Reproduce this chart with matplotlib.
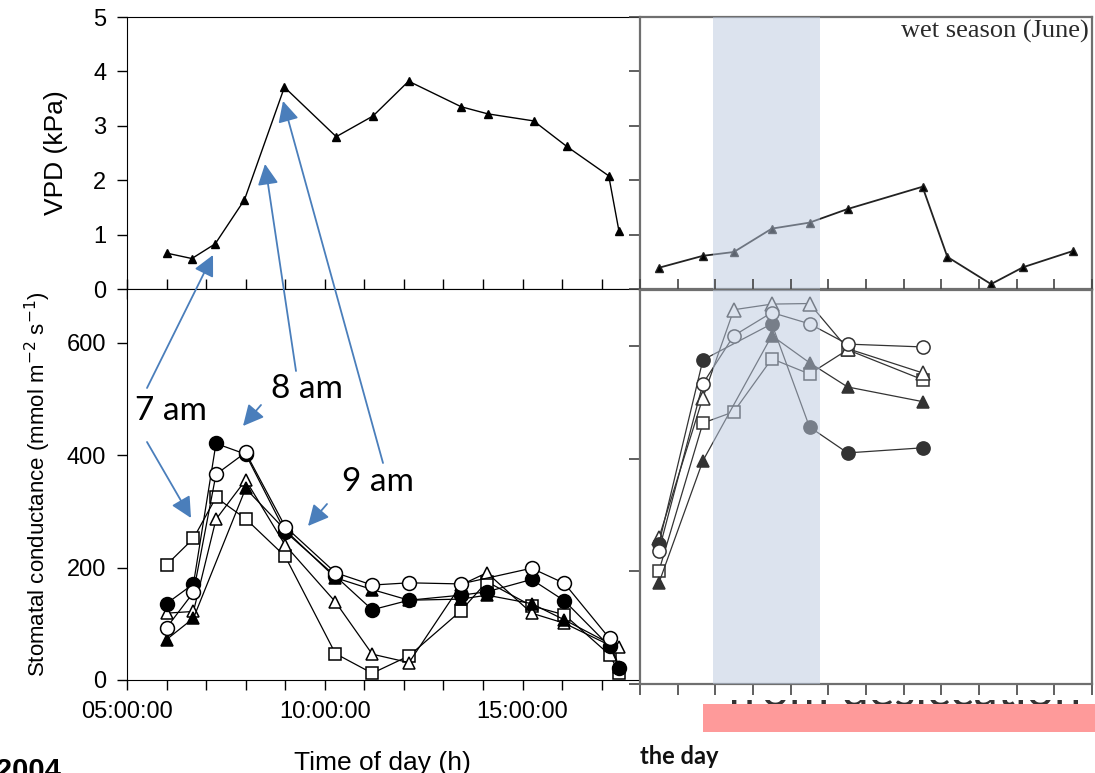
import numpy as np
import matplotlib
matplotlib.use('Agg')
import matplotlib.pyplot as plt
from matplotlib.patches import Rectangle

nan = np.nan
W, H = 1095, 773

# ---------------- data ----------------
# Left: dry season, time of day (hours)
vpd_time = [6.0, 6.64, 7.23, 7.97, 8.98, 10.29, 11.22, 12.12, 13.45, 14.12, 15.28, 16.12, 17.18, 17.44]
vpd_values = [0.66, 0.56, 0.83, 1.64, 3.71, 2.80, 3.18, 3.82, 3.35, 3.22, 3.09, 2.62, 2.08, 1.06]

gs_time = [6.0, 6.68, 7.25, 8.0, 9.0, 10.27, 11.2, 12.13, 13.44, 14.1, 15.23, 16.06, 17.2, 17.45]
gs_filled_circle = [136, 171, 421, 402, 264, 185, 125, 142, 151, 157, 179, 141, 60, 22]
gs_open_circle = [93, 156, 366, 405, 273, 191, 169, 173, 171, nan, 199, 172, 74, nan]
gs_open_triangle = [119, 122, 286, 356, 240, 139, 46, 31, 169, 191, 119, 101, 62, 59]
gs_open_square = [205, 252, 325, 287, 220, 47, 12, 43, 123, 175, 132, 116, 45, 12]
gs_filled_triangle = [72, 110, nan, 341, 267, 182, 161, 142, 144, 151, 136, 107, 65, 24]

# Right: wet season (June)
wet_time = [6.5, 7.67, 8.49, 9.5, 10.5, 11.51, 13.5, 14.16, 15.32, 16.17, 17.5]
wet_vpd = [0.39, 0.61, 0.68, 1.11, 1.22, 1.47, 1.88, 0.59, 0.09, 0.40, 0.70]

wet_gs_time = [6.5, 7.67, 8.49, 9.5, 10.5, 11.51, 13.5]
wet_filled_circle = [248, 575, nan, 639, 456, 410, 419]
wet_open_circle = [236, 533, 618, 659, 639, 603, 598]
wet_open_triangle = [259, 508, 664, 674, 675, 595, 552]
wet_open_square = [200, 463, 483, 577, 550, 593, 540]
wet_filled_triangle = [179, 396, nan, 618, 570, 527, 501]

left_hours = list(range(5, 18))
left_labels = ['05:00:00' if h == 5 else '10:00:00' if h == 10 else '15:00:00' if h == 15 else '' for h in left_hours]
shade_span = (7.93, 10.77)

# ---------------- figure ----------------
fig = plt.figure(figsize=(W / 100, H / 100), dpi=100)
plt.rcParams['font.family'] = ['Liberation Sans', 'DejaVu Sans']


def ax_px(x0, y0, x1, y1, **kw):
    return fig.add_axes([x0 / W, 1 - y1 / H, (x1 - x0) / W, (y1 - y0) / H], **kw)


def plot_series(ax, x, y, marker, filled, ms, lc='black', mew=1.1, lw=0.9):
    x = np.asarray(x, float)
    y = np.asarray(y, float)
    m = ~np.isnan(y)
    ax.plot(x[m], y[m], color=lc, lw=lw, marker=marker, ms=ms,
            mfc=(lc if filled else 'white'), mec=lc, mew=mew, zorder=3)


# ---- left top: VPD ----
axA = ax_px(127, 17, 638, 289)
axA.plot(vpd_time, vpd_values, color='black', lw=1.0, marker='^', ms=5.5, mfc='black', mec='black')
axA.set_xlim(5, 17.92)
axA.set_ylim(0, 5)
axA.set_yticks([0, 1, 2, 3, 4, 5])
axA.set_xticks(left_hours)
axA.set_xticklabels([])
axA.tick_params(axis='both', direction='out', length=7, width=1, labelsize=17)
axA.tick_params(axis='y', pad=8)
axA.spines['right'].set_visible(False)
axA.set_ylabel('VPD (kPa)', fontsize=19, labelpad=18)

# ---- left bottom: stomatal conductance ----
axB = ax_px(127, 289, 638, 680)
plot_series(axB, gs_time, gs_open_square, 's', False, 8.5)
plot_series(axB, gs_time, gs_open_triangle, '^', False, 9)
plot_series(axB, gs_time, gs_filled_triangle, '^', True, 8.5)
plot_series(axB, gs_time, gs_filled_circle, 'o', True, 10)
plot_series(axB, gs_time, gs_open_circle, 'o', False, 10)
axB.set_xlim(5, 17.92)
axB.set_ylim(0, 696)
axB.set_yticks([0, 200, 400, 600])
axB.set_xticks(left_hours)
axB.set_xticklabels(left_labels)
axB.tick_params(axis='both', direction='out', length=7, width=1, labelsize=17)
axB.tick_params(axis='x', top=True, direction='out', pad=8)
axB.tick_params(axis='y', pad=8)
axB.spines['right'].set_visible(False)
axB.set_ylabel('Stomatal conductance (mmol m$^{-2}$ s$^{-1}$)', fontsize=16, labelpad=10)
axB.set_xlabel('Time of day (h)', fontsize=19, labelpad=20)

# ---- right panels ----
grey = '#6f6f6f'
axC = ax_px(640, 17, 1092, 289)
axC.plot(wet_time, wet_vpd, color='#222222', lw=1.3, marker='^', ms=6, mfc='black', mec='#222222')
axC.set_xlim(6, 18)
axC.set_ylim(0, 5)
axC.set_yticks([0, 1, 2, 3, 4, 5])
axC.set_yticklabels([])
axC.set_xticks(range(6, 19))
axC.set_xticklabels([])
axC.text(0.992, 0.99, 'wet season (June)', transform=axC.transAxes, ha='right', va='top',
         fontsize=19, family=['Liberation Serif', 'DejaVu Serif'], color='#2a2a2a')

axD = ax_px(640, 290, 1092, 684)
rc = '#333333'
plot_series(axD, wet_gs_time, wet_open_square, 's', False, 9, lc=rc)
plot_series(axD, wet_gs_time, wet_open_triangle, '^', False, 9.5, lc=rc)
plot_series(axD, wet_gs_time, wet_filled_triangle, '^', True, 9, lc=rc)
plot_series(axD, wet_gs_time, wet_filled_circle, 'o', True, 9.5, lc=rc)
plot_series(axD, wet_gs_time, wet_open_circle, 'o', False, 9.5, lc=rc)
axD.set_xlim(6, 18)
axD.set_ylim(0, 699)
axD.set_yticks([0, 200, 400, 600])
axD.set_yticklabels([])
axD.set_xticks(range(6, 19))
axD.set_xticklabels([])

for ax in (axC, axD):
    for s in ax.spines.values():
        s.set_color(grey)
        s.set_linewidth(1.6)
    ax.tick_params(axis='both', direction='out', length=8, width=1.2, color='#444444')
    ax.axvspan(*shade_span, facecolor='#bbc9df', alpha=0.5, lw=0, zorder=5)
axD.tick_params(axis='x', top=True)

# ---- overlay for annotations ----
ov = fig.add_axes([0, 0, 1, 1], zorder=10)
ov.set_xlim(0, W)
ov.set_ylim(H, 0)
ov.axis('off')
ov.patch.set_alpha(0)

# thin sliver of a text hidden behind the pink bar (clipped to a narrow band)
axS = ax_px(700, 699.5, 1095, 704, zorder=9)
axS.axis('off')
axS.patch.set_alpha(0)
axS.text(727, 706, 'from desiccation', fontsize=35, color='#333333', transform=ov.transData,
         family=['Lato', 'DejaVu Sans'], va='baseline', ha='left', clip_on=True)

blue = '#4a7ebb'
arrows = [((147, 388), (213, 255)),
          ((147, 442), (191, 518)),
          ((296, 371), (265, 164)),
          ((261, 405), (243, 426)),
          ((383, 463), (283, 101)),
          ((327, 504), (308, 526))]
for (x0, y0), (x1, y1) in arrows:
    ov.annotate('', xy=(x1, y1), xytext=(x0, y0),
                arrowprops=dict(arrowstyle='-|>,head_length=0.9,head_width=0.45',
                                color=blue, lw=1.3, shrinkA=0, shrinkB=0, mutation_scale=14))

for txt, x, y in [('7 am', 171, 411), ('8 am', 307, 389), ('9 am', 378, 482)]:
    ov.text(x, y, txt, fontsize=24, ha='center', va='center', color='black',
            family=['Lato', 'DejaVu Sans'])

ov.add_patch(Rectangle((703, 703.5), 392, 28.5, facecolor='#fe9a9a', edgecolor='none', zorder=20))
ov.text(640, 764, 'the day', fontsize=17, fontweight='bold', ha='left', va='baseline',
        family=['Lato', 'DejaVu Sans'], color='#111111')
ov.text(-4, 779, '2004', fontsize=21, fontweight='bold', ha='left', va='baseline',
        family=['Liberation Sans', 'DejaVu Sans'], color='black')

fig.savefig('out.png', dpi=100)
